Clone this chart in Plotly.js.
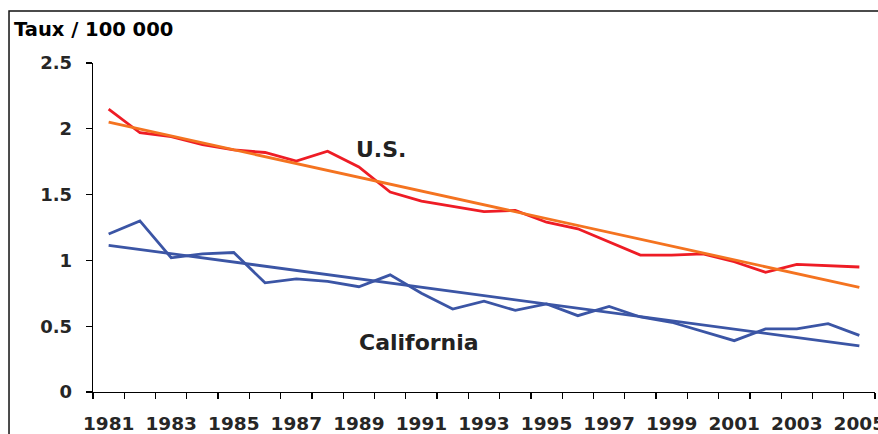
<!DOCTYPE html>
<html>
<head>
<meta charset="utf-8">
<script src="https://cdn.plot.ly/plotly-3.0.1.min.js"></script>
<style>
html,body{margin:0;padding:0;background:#fff;}
#chart{width:878px;height:434px;}
</style>
</head>
<body>
<div id="chart"></div>
<script>
// Data
const years = ["1981","1982","1983","1984","1985","1986","1987","1988","1989","1990","1991","1992","1993","1994","1995","1996","1997","1998","1999","2000","2001","2002","2003","2004","2005"];
const usRates = [2.15,1.97,1.94,1.88,1.84,1.82,1.755,1.83,1.71,1.52,1.45,1.41,1.37,1.38,1.29,1.24,1.14,1.04,1.04,1.05,0.99,0.91,0.97,0.96,0.95];
const caRates = [1.20,1.30,1.02,1.05,1.06,0.83,0.86,0.84,0.80,0.89,0.75,0.63,0.69,0.62,0.67,0.58,0.65,0.57,0.53,0.46,0.39,0.48,0.48,0.52,0.43];
const usTrendYears = ["1981","2005"];
const usTrend = [2.05,0.795];
const caTrendYears = ["1981","2005"];
const caTrend = [1.115,0.35];
const xTickLabels = ["1981","","1983","","1985","","1987","","1989","","1991","","1993","","1995","","1997","","1999","","2001","","2003","","2005"];
const yTickVals = [0,0.5,1,1.5,2,2.5];
const yTickLabels = ["0","0.5","1","1.5","2","2.5"];

const FONT = "DejaVu Sans, Verdana, sans-serif";
const RED = "#ee1c25";
const ORANGE = "#f47320";
const BLUE = "#3b55a5";

const traces = [
  {x: years, y: usRates, type: "scatter", mode: "lines", line: {color: RED, width: 2.8}, hoverinfo: "skip"},
  {x: usTrendYears, y: usTrend, type: "scatter", mode: "lines", line: {color: ORANGE, width: 2.8}, hoverinfo: "skip"},
  {x: years, y: caRates, type: "scatter", mode: "lines", line: {color: BLUE, width: 2.8}, hoverinfo: "skip"},
  {x: caTrendYears, y: caTrend, type: "scatter", mode: "lines", line: {color: BLUE, width: 2.8}, hoverinfo: "skip"}
];

const layout = {
  width: 878, height: 434,
  margin: {l: 93, r: 3, t: 63, b: 42, pad: 0},
  paper_bgcolor: "#ffffff", plot_bgcolor: "#ffffff",
  showlegend: false,
  font: {family: FONT, color: "#262626"},
  xaxis: {
    type: "category",
    range: [-0.5, 24.5],
    tickmode: "array", tickvals: years, ticktext: xTickLabels,
    tickson: "boundaries",
    tickangle: 0,
    ticks: "outside", ticklen: 6, tickwidth: 1.3, tickcolor: "#000",
    showline: true, linecolor: "#000", linewidth: 1.3,
    showgrid: false, zeroline: false,
    ticklabelstandoff: 14,
    tickfont: {family: FONT, size: 18.5, weight: 700, color: "#262626"}
  },
  yaxis: {
    range: [0, 2.5],
    tickmode: "array", tickvals: yTickVals, ticktext: yTickLabels,
    ticks: "outside", ticklen: 6, tickwidth: 1.3, tickcolor: "#000",
    showline: true, linecolor: "#000", linewidth: 1.3,
    showgrid: false, zeroline: false,
    ticklabelstandoff: 10,
    tickfont: {family: FONT, size: 18, weight: 700, color: "#262626"}
  },
  annotations: [
    {text: "Taux / 100 000", xref: "paper", yref: "paper", x: -0.1035, y: 1.103, xanchor: "left", yanchor: "middle", showarrow: false,
     font: {family: FONT, size: 19.5, weight: 700, color: "#000"}},
    {text: "U.S.", xref: "paper", yref: "paper", x: 0.368, y: 0.7356, xanchor: "center", yanchor: "middle", showarrow: false,
     font: {family: FONT, size: 22, weight: 700, color: "#222"}},
    {text: "California", xref: "paper", yref: "paper", x: 0.417, y: 0.149, xanchor: "center", yanchor: "middle", showarrow: false,
     font: {family: FONT, size: 22, weight: 700, color: "#222"}}
  ],
  shapes: [
    {type: "rect", xref: "paper", yref: "paper", x0: -0.1074, x1: 1.2, y0: -0.5, y1: 1.158,
     line: {color: "#111", width: 1.5}, fillcolor: "rgba(0,0,0,0)", layer: "below"}
  ]
};

Plotly.newPlot("chart", traces, layout, {staticPlot: true, displayModeBar: false});
</script>
</body>
</html>
